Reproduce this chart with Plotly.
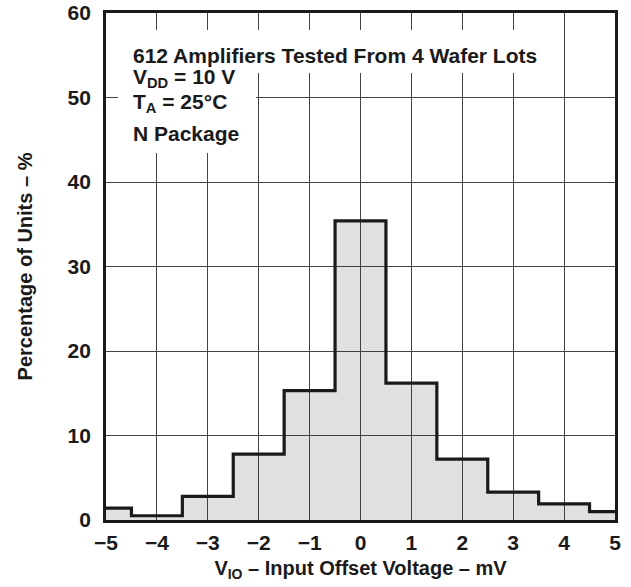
import plotly.graph_objects as go

# Histogram bins (mV): edges of each bin, left to right
bin_edges = [-5, -4.5, -3.5, -2.5, -1.5, -0.5, 0.5, 1.5, 2.5, 3.5, 4.5, 5]
# Percentage of units in each bin
pct = [1.4, 0.5, 2.8, 7.8, 15.3, 35.4, 16.2, 7.2, 3.3, 1.9, 1.0]

x_ticks = [-5, -4, -3, -2, -1, 0, 1, 2, 3, 4, 5]
y_ticks = [0, 10, 20, 30, 40, 50, 60]

FONT = "Liberation Sans, Arial, Helvetica, sans-serif"

fig = go.Figure()
fig.add_trace(go.Scatter(
    x=bin_edges,
    y=pct + [pct[-1]],
    mode="lines",
    line=dict(shape="hv", color="#1a1a1a", width=3.2),
    fill="tozeroy",
    fillcolor="rgba(45,50,60,0.15)",
    hoverinfo="skip",
    showlegend=False,
))

# white boxes behind the note text (hide grid lines)
fig.add_shape(type="rect", xref="paper", yref="paper",
              x0=0.0236, x1=0.8389, y0=0.8817, y1=0.9665,
              fillcolor="white", line=dict(width=0), layer="above")
fig.add_shape(type="rect", xref="paper", yref="paper",
              x0=0.0236, x1=0.2947, y0=0.7239, y1=0.8817,
              fillcolor="white", line=dict(width=0), layer="above")

notes = [
    ("612 Amplifiers Tested From 4 Wafer Lots", 0.9162),
    ("V<sub>DD</sub> = 10 V", 0.8718),
    ("T<sub>A</sub> = 25°C", 0.8234),
    ("N Package", 0.7623),
]
for txt, yy in notes:
    fig.add_annotation(text=txt, xref="paper", yref="paper", x=0.049, y=yy,
                       xanchor="left", yanchor="middle", showarrow=False,
                       font=dict(family=FONT, size=21, color="#1a1a1a", weight="bold"))

fig.update_layout(
    width=631, height=587,
    margin=dict(l=106, r=16, t=13, b=67, autoexpand=False),
    paper_bgcolor="white", plot_bgcolor="white",
    font=dict(family=FONT, color="#1a1a1a"),
)
fig.update_xaxes(
    range=[-5, 5], tickvals=x_ticks, showgrid=True, gridcolor="#444", gridwidth=1,
    zeroline=False, showline=True, linecolor="#1a1a1a", linewidth=2.7, mirror=True,
    ticks="", ticklabelstandoff=2, automargin=False,
    tickfont=dict(family=FONT, size=21, weight="bold", color="#1a1a1a"),
    title=dict(text="V<sub>IO</sub> – Input Offset Voltage – mV", standoff=8,
               font=dict(family=FONT, size=20, weight="bold", color="#1a1a1a")),
)
fig.update_yaxes(
    range=[0, 60], tickvals=y_ticks, showgrid=True, gridcolor="#444", gridwidth=1,
    zeroline=False, showline=True, linecolor="#1a1a1a", linewidth=2.7, mirror=True,
    ticks="", ticklabelstandoff=8, automargin=False,
    tickfont=dict(family=FONT, size=21, weight="bold", color="#1a1a1a"),
    title=dict(text="Percentage of Units – %", standoff=30,
               font=dict(family=FONT, size=20, weight="bold", color="#1a1a1a")),
)

fig.write_html("out.html", config={"displayModeBar": False},
               post_script="document.body.style.margin='0';")
